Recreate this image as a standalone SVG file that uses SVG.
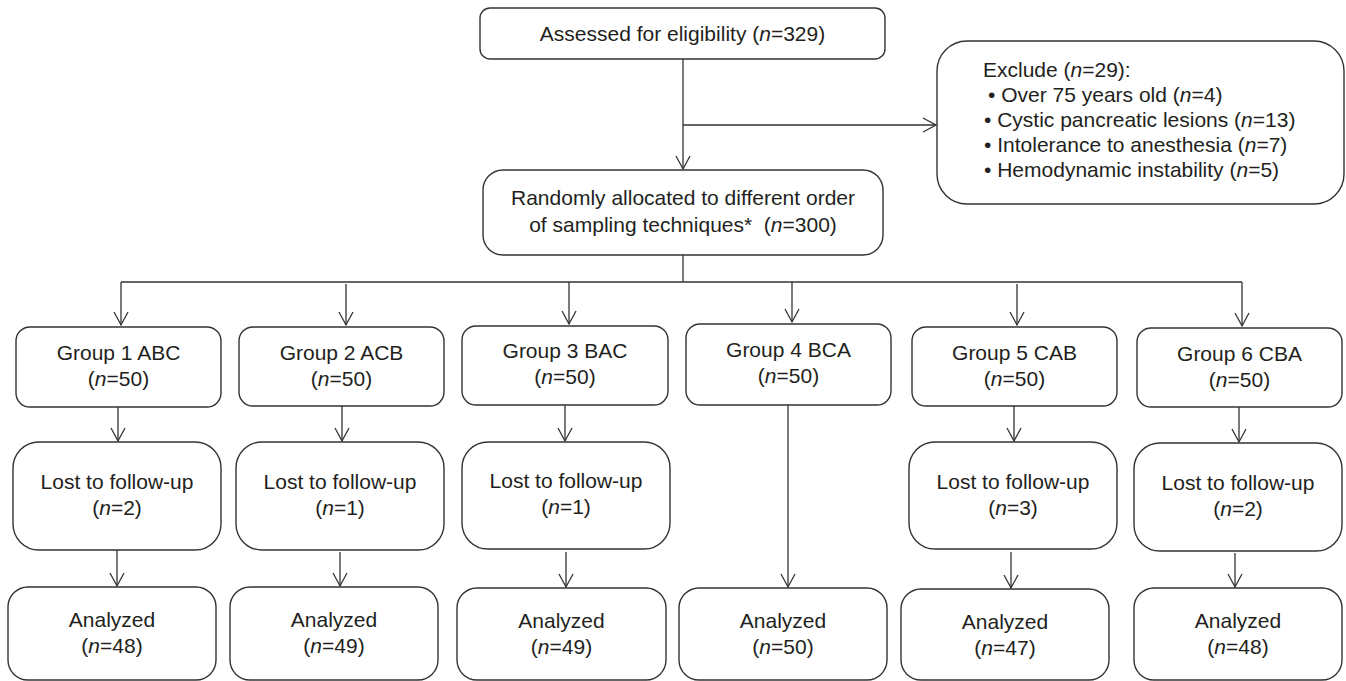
<svg xmlns="http://www.w3.org/2000/svg" width="1346" height="681" viewBox="0 0 1346 681">
<defs>
<marker id="arr" viewBox="0 0 16 16" refX="14" refY="8" markerWidth="16" markerHeight="16" markerUnits="userSpaceOnUse" orient="auto">
<path d="M1,1 L14,8 L1,15" fill="none" stroke="#333" stroke-width="1.3"/>
</marker>
<style>
.box{fill:#fff;stroke:#333;stroke-width:1.4}
.t{font-family:"Liberation Sans",Arial,sans-serif;font-size:21px;fill:#231f20}
.c{text-anchor:middle}
.i{font-style:italic}
.ln{fill:none;stroke:#333;stroke-width:1.3}
.a{marker-end:url(#arr)}
</style>
</defs>
<rect width="1346" height="681" fill="#fff"/>

<g id="connectors">
<line class="ln a" x1="683" y1="59" x2="683" y2="169"/>
<line class="ln a" x1="683" y1="125" x2="936" y2="125"/>
<line class="ln" x1="683" y1="255" x2="683" y2="282"/>
<line class="ln" x1="121" y1="282" x2="1242" y2="282"/>
<line class="ln a" x1="121" y1="282" x2="121" y2="325"/>
<line class="ln a" x1="346" y1="284" x2="346" y2="325"/>
<line class="ln a" x1="569" y1="282" x2="569" y2="324"/>
<line class="ln a" x1="792" y1="282" x2="792" y2="322"/>
<line class="ln a" x1="1017" y1="284" x2="1017" y2="325"/>
<line class="ln a" x1="1242" y1="282" x2="1242" y2="326"/>
<line class="ln a" x1="118" y1="407" x2="118" y2="441"/>
<line class="ln a" x1="342" y1="406" x2="342" y2="441"/>
<line class="ln a" x1="565" y1="405" x2="565" y2="441"/>
<line class="ln a" x1="1014" y1="406" x2="1014" y2="441"/>
<line class="ln a" x1="1239" y1="407" x2="1239" y2="442"/>
<line class="ln a" x1="117" y1="550" x2="117" y2="586"/>
<line class="ln a" x1="340" y1="552" x2="340" y2="586"/>
<line class="ln a" x1="566" y1="552" x2="566" y2="587"/>
<line class="ln a" x1="788" y1="405" x2="788" y2="587"/>
<line class="ln a" x1="1011" y1="552" x2="1011" y2="588"/>
<line class="ln a" x1="1235" y1="553" x2="1235" y2="587"/>
</g>

<g id="assessed">
<rect class="box" x="480" y="8" width="405" height="51" rx="10"/>
<text class="t c" x="682.5" y="40.5">Assessed for eligibility (<tspan class="i">n</tspan>=329)</text>
</g>

<g id="exclude">
<rect class="box" x="937" y="41" width="407" height="163" rx="30"/>
<text class="t" x="983" y="77">Exclude (<tspan class="i">n</tspan>=29):</text>
<text class="t" x="988" y="102">• Over 75 years old (<tspan class="i">n</tspan>=4)</text>
<text class="t" x="984" y="127">• Cystic pancreatic lesions (<tspan class="i">n</tspan>=13)</text>
<text class="t" x="984" y="152">• Intolerance to anesthesia (<tspan class="i">n</tspan>=7)</text>
<text class="t" x="984" y="177">• Hemodynamic instability (<tspan class="i">n</tspan>=5)</text>
</g>

<g id="randomized">
<rect class="box" x="483" y="170" width="400" height="85" rx="20"/>
<text class="t c" x="683" y="205">Randomly allocated to different order</text>
<text class="t c" x="683" y="232" xml:space="preserve">of sampling techniques*  (<tspan class="i">n</tspan>=300)</text>
</g>

<g id="group1">
<rect class="box" x="16" y="327" width="205" height="80" rx="14"/>
<text class="t c" x="118.5" y="360">Group 1 ABC</text>
<text class="t c" x="118.5" y="386">(<tspan class="i">n</tspan>=50)</text>
</g>
<g id="group2">
<rect class="box" x="239" y="327" width="205" height="79" rx="14"/>
<text class="t c" x="341.5" y="360">Group 2 ACB</text>
<text class="t c" x="341.5" y="386">(<tspan class="i">n</tspan>=50)</text>
</g>
<g id="group3">
<rect class="box" x="462" y="326" width="206" height="79" rx="14"/>
<text class="t c" x="565" y="358">Group 3 BAC</text>
<text class="t c" x="565" y="384">(<tspan class="i">n</tspan>=50)</text>
</g>
<g id="group4">
<rect class="box" x="686" y="324" width="205" height="81" rx="14"/>
<text class="t c" x="788.5" y="357">Group 4 BCA</text>
<text class="t c" x="788.5" y="383">(<tspan class="i">n</tspan>=50)</text>
</g>
<g id="group5">
<rect class="box" x="912" y="327" width="205" height="79" rx="14"/>
<text class="t c" x="1014.5" y="360">Group 5 CAB</text>
<text class="t c" x="1014.5" y="386">(<tspan class="i">n</tspan>=50)</text>
</g>
<g id="group6">
<rect class="box" x="1137" y="328" width="205" height="79" rx="14"/>
<text class="t c" x="1239.5" y="361">Group 6 CBA</text>
<text class="t c" x="1239.5" y="387">(<tspan class="i">n</tspan>=50)</text>
</g>

<g id="lost1">
<rect class="box" x="13" y="442" width="208" height="108" rx="26"/>
<text class="t c" x="117" y="489">Lost to follow-up</text>
<text class="t c" x="117" y="515">(<tspan class="i">n</tspan>=2)</text>
</g>
<g id="lost2">
<rect class="box" x="236" y="442" width="208" height="108" rx="26"/>
<text class="t c" x="340" y="489">Lost to follow-up</text>
<text class="t c" x="340" y="515">(<tspan class="i">n</tspan>=1)</text>
</g>
<g id="lost3">
<rect class="box" x="462" y="442" width="208" height="107" rx="26"/>
<text class="t c" x="566" y="488">Lost to follow-up</text>
<text class="t c" x="566" y="514">(<tspan class="i">n</tspan>=1)</text>
</g>
<g id="lost5">
<rect class="box" x="909" y="442" width="208" height="107" rx="26"/>
<text class="t c" x="1013" y="489">Lost to follow-up</text>
<text class="t c" x="1013" y="515">(<tspan class="i">n</tspan>=3)</text>
</g>
<g id="lost6">
<rect class="box" x="1134" y="443" width="208" height="108" rx="26"/>
<text class="t c" x="1238" y="490">Lost to follow-up</text>
<text class="t c" x="1238" y="516">(<tspan class="i">n</tspan>=2)</text>
</g>

<g id="analyzed1">
<rect class="box" x="8" y="587" width="208" height="93" rx="20"/>
<text class="t c" x="112" y="627">Analyzed</text>
<text class="t c" x="112" y="653">(<tspan class="i">n</tspan>=48)</text>
</g>
<g id="analyzed2">
<rect class="box" x="230" y="587" width="208" height="93" rx="20"/>
<text class="t c" x="334" y="627">Analyzed</text>
<text class="t c" x="334" y="653">(<tspan class="i">n</tspan>=49)</text>
</g>
<g id="analyzed3">
<rect class="box" x="457" y="588" width="209" height="92" rx="20"/>
<text class="t c" x="561.5" y="628">Analyzed</text>
<text class="t c" x="561.5" y="654">(<tspan class="i">n</tspan>=49)</text>
</g>
<g id="analyzed4">
<rect class="box" x="679" y="588" width="208" height="92" rx="20"/>
<text class="t c" x="783" y="628">Analyzed</text>
<text class="t c" x="783" y="654">(<tspan class="i">n</tspan>=50)</text>
</g>
<g id="analyzed5">
<rect class="box" x="901" y="589" width="208" height="91" rx="20"/>
<text class="t c" x="1005" y="629">Analyzed</text>
<text class="t c" x="1005" y="655">(<tspan class="i">n</tspan>=47)</text>
</g>
<g id="analyzed6">
<rect class="box" x="1134" y="588" width="208" height="92" rx="20"/>
<text class="t c" x="1238" y="628">Analyzed</text>
<text class="t c" x="1238" y="654">(<tspan class="i">n</tspan>=48)</text>
</g>
</svg>
